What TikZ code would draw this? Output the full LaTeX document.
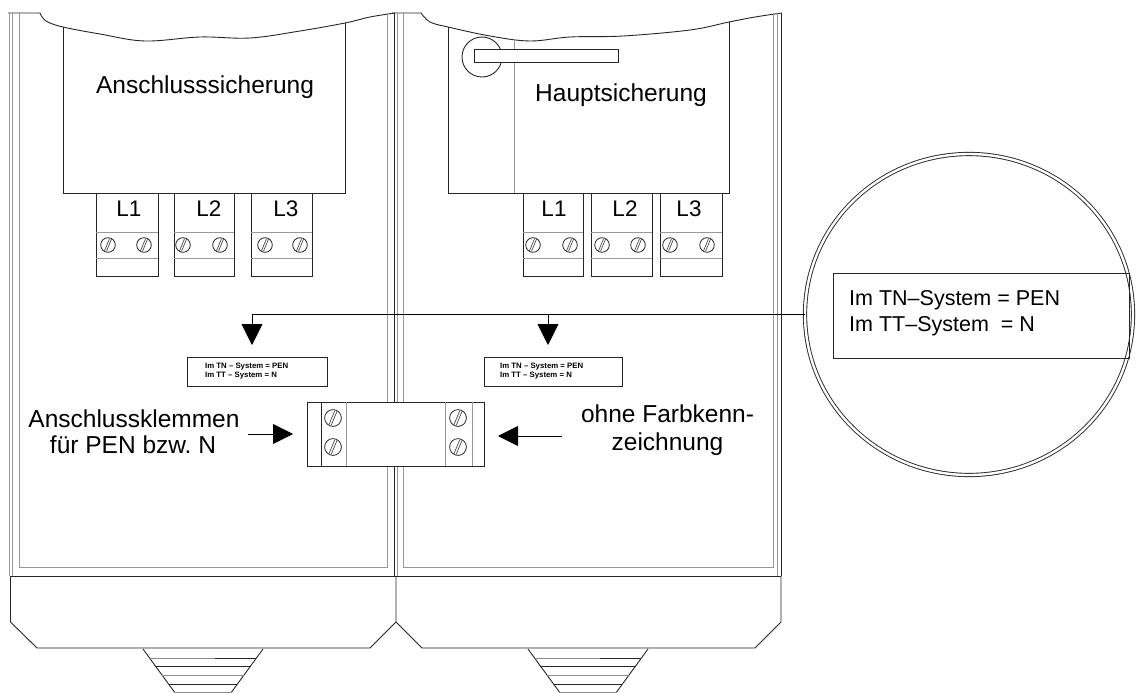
\documentclass[tikz,border=0pt]{standalone}
\usepackage{fontspec}
\setmainfont{Liberation Sans}
\usetikzlibrary{arrows.meta,shapes.geometric}
\begin{document}
\begin{tikzpicture}[x=1pt,y=-1pt,
  dk/.style={draw=black!85,line width=0.9pt},
  gy/.style={draw=black!40,line width=1pt},
  arr/.style={draw=black,line width=0.9pt,-{Triangle[length=21pt,width=21pt]}},
  harr/.style={draw=black,line width=0.9pt,-{Triangle[length=20pt,width=20pt]}},
  big/.style={font=\fontsize{24.5}{28}\selectfont,inner sep=0pt,anchor=base},
  lab/.style={font=\fontsize{22.5}{26}\selectfont,inner sep=0pt,anchor=base},
  zt/.style={font=\fontsize{21.5}{26}\selectfont,inner sep=0pt,anchor=base west},
  tiny/.style={font=\fontsize{7.8}{9}\selectfont\bfseries,inner sep=0pt,anchor=base west},
  screw/.pic={\draw[black!85,line width=0.8pt] (0,0) circle (7.3);
              \draw[black!70,line width=0.7pt] (-3.5,5.8) -- (1.5,-6.2);
              \draw[black!70,line width=0.7pt] (-1.5,6.2) -- (3.5,-5.8);}
]
\useasboundingbox (0,0) rectangle (1138,693);

% ---------- housings ----------
% top break lines
\draw[dk] (8,13) -- (40,13) -- plot[smooth,tension=0.6] coordinates
  {(40,13) (46,21) (63,27) (100,34) (145,41) (200,37) (250,38) (300,31) (345,23) (370,17) (395,13)};
\draw[dk] (392,13) -- (421,13) -- plot[smooth,tension=0.6] coordinates
  {(421,13) (430,22) (448,27) (490,36) (530,41) (570,37) (623,36) (690,30) (729,22) (755,17) (782,13)};
% left panel verticals
\draw[gy] (9.5,13) -- (9.5,576);
\draw[gy] (12.5,13) -- (12.5,576);
\draw[gy] (19,13) -- (19,567) -- (387,567) -- (387,13);
% divider
\draw[dk] (394.5,13) -- (394.5,576);
\draw[gy] (397.5,13) -- (397.5,576);
% right panel verticals
\draw[gy] (403,13) -- (403,567) -- (773,567) -- (773,13);
\draw[gy] (777.5,13) -- (777.5,576);
\draw[dk] (781,13) -- (781,576);
% lower part
\draw[dk] (10,576) -- (781,576);
\draw[dk] (10.5,576) -- (10.5,622) -- (37,648) -- (370,648) -- (396,622) -- (396,576);
\draw[dk] (396,622) -- (422,648) -- (755,648) -- (781,622) -- (781,576);
% funnels
\foreach \xa/\xb in {143/263,528/648}{
  \draw[dk] (\xa,649) -- ({\xa+44*0.73},693);
  \draw[dk] (\xb,649) -- ({\xb-44*0.73},693);
  \foreach \yy/\cc in {658/black!45,666/black!85,675/black!45,684/black!85,692/black!45}{
    \draw[draw=\cc,line width=1pt] ({\xa+(\yy-649)*0.73},\yy) -- ({\xb-(\yy-649)*0.73},\yy);}
  \draw[black!85,line width=1pt] ({\xa+72},658) -- ({\xb-9*0.73},658);
}

% ---------- Anschlusssicherung ----------
\draw[dk] (63,27) -- (63,193) -- (345,193) -- (345,23);
\node[big] (asich) at (205,93) {Anschlusssicherung};
% ---------- Hauptsicherung ----------
\draw[dk] (448,27) -- (448,193) -- (729,193) -- (729,22);
\draw[gy] (514,39) -- (514,193);
\draw[dk] (482,57) circle (20);
\draw[dk,fill=white] (474,49) rectangle (618,62);
\node[big] (hsich) at (621,102) {Hauptsicherung};

% ---------- terminal blocks ----------
\foreach \xa/\xb/\sa/\sb/\lx/\ll in {
   96/158/108/144/129/L1, 174/234/183/220/209/L2, 251/312/265/300/286/L3,
   523/583/533/570/554/L1, 591/652/602/638/625/L2, 660/722/670/707/689/L3}{
  \draw[dk] (\xa,193) -- (\xa,276) -- (\xb,276) -- (\xb,193);
  \draw[gy] (\xa,232) -- (\xb,232);
  \draw[gy] (\xa,258) -- (\xb,258);
  \pic at (\sa,245) {screw};
  \pic at (\sb,245) {screw};
  \node[lab] at (\lx,216) {\ll};
}

% ---------- PEN / N terminal ----------
\node[draw=black!85,line width=0.9pt,fill=white,minimum width=177pt,minimum height=64pt,inner sep=0pt,outer sep=0pt] (pen) at (395.5,434) {};
\draw[dk] (321,402) -- (321,466);
\draw[gy] (346,402) -- (346,466);
\draw[gy] (445,402) -- (445,466);
\draw[gy] (472,402) -- (472,466);
\foreach \sx in {333,458}{
  \pic[scale=1.15] at (\sx,418) {screw};
  \pic[scale=1.15] at (\sx,447) {screw};
}

% ---------- small labels ----------
\node[draw=black!85,line width=0.9pt,minimum width=140pt,minimum height=29pt,inner sep=0pt] (lblL) at (257,371.5) {};
\node[tiny] (tl1) at (205,368) {Im TN -- System = PEN};
\node[tiny] (tl2) at (205,377) {Im TT -- System = N};
\node[draw=black!85,line width=0.9pt,minimum width=138pt,minimum height=29pt,inner sep=0pt] (lblR) at (553,371.5) {};
\node[tiny] (tr1) at (500,368) {Im TN -- System = PEN};
\node[tiny] (tr2) at (500,377) {Im TT -- System = N};

% ---------- zoom circle ----------
\node[ellipse,draw=black!85,line width=0.9pt,double=white,double distance=2.4pt,
      minimum width=328pt,minimum height=321pt,inner sep=0pt,outer sep=0pt] (zoom) at (969,314.5) {};
\node[draw=black!85,line width=0.9pt,minimum width=296pt,minimum height=85pt,inner sep=0pt] (zbox) at (981,315.5) {};
\node[zt] (z1) at (849,305) {Im TN--System = PEN};
\node[zt] (z2) at (849,331) {Im TT--System\ \ = N};

% ---------- connectors ----------
\coordinate (tipL) at (252,345);
\coordinate (tipR) at (548,345);
\coordinate (jR) at (548,314);
\draw[arr] (zoom.west) -| (tipL);
\draw[arr] (jR) -- (tipR);

% ---------- side labels ----------
\node[big] (k1) at (134,427) {Anschlussklemmen};
\node[big] (k2) at (133,453) {für PEN bzw.\ N};
\node[big] (f1) at (667.5,422) {ohne Farbkenn-};
\node[big] (f2) at (667.5,450) {zeichnung};
\coordinate (aL0) at (248,434);
\coordinate (aL1) at (293,434);
\coordinate (aR0) at (562,436);
\coordinate (aR1) at (498,436);
\draw[harr] (aL0) -- (aL1);
\draw[harr] (aR0) -- (aR1);
\end{tikzpicture}
\end{document}
